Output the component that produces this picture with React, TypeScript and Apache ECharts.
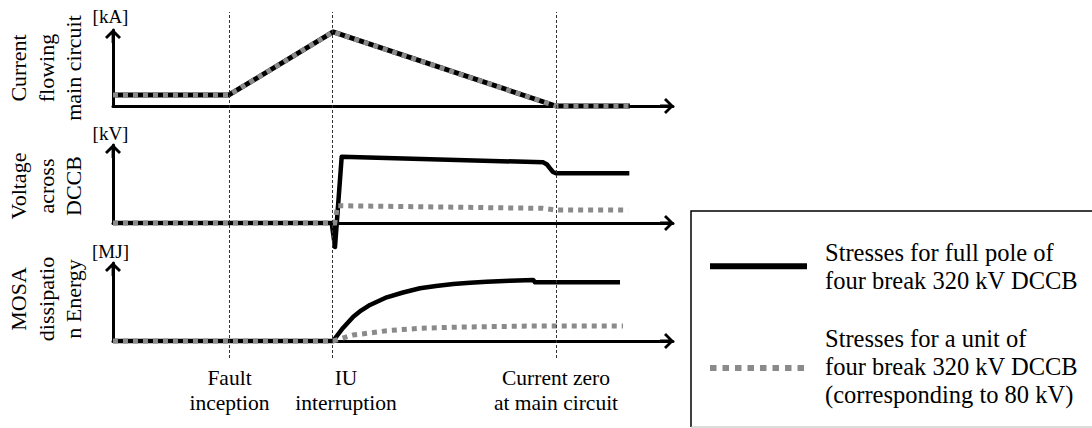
import React, { useEffect, useRef } from 'react';
import * as echarts from 'echarts';

// Event instants on the common time axis (0..100)
const eventTimes = [20.7, 39.1, 79.1];
const eventLabels = ['Fault\ninception', 'IU\ninterruption', 'Current zero\nat main circuit'];
const panelTitles = ['Current\nflowing\nmain circuit', 'Voltage\nacross\nDCCB', 'MOSA\ndissipatio\nn Energy'];
const panelUnits = ['[kA]', '[kV]', '[MJ]'];
const legendLabels = [
  'Stresses for full pole of\nfour break 320 kV DCCB',
  'Stresses for a unit of\nfour break 320 kV DCCB\n(corresponding to 80 kV)',
];

// Panel 1: current flowing main circuit (relative units)
const currentFull = [[0, 14.5], [20.7, 14.5], [39.3, 97.4], [79.1, 0], [92.3, 0]];
const currentUnit = [[0, 14.5], [20.7, 14.5], [39.3, 97.4], [79.1, 0], [92.3, 0]];

// Panel 2: voltage across DCCB
const voltageFull = [
  [0, 0], [39.05, 0], [39.64, -30.8], [40.84, 85], [76.84, 77.8], [77.5, 75],
  [78.04, 70.1], [78.57, 65.4], [79.1, 63.7], [92.2, 63.7],
];
const voltageUnit = [
  [0, 0], [39.6, 0], [40.1, 22.2], [76.8, 18.8], [78.9, 16.7], [92.0, 16.7],
];

// Panel 3: MOSA dissipation energy
const energyFull = [
  [0, 0], [39.29, 0], [41.07, 16.7], [42.91, 31.2], [44.29, 39], [45.89, 46.2],
  [48.88, 56], [51.79, 62.2], [54.82, 67.6], [57.68, 70.5], [60.77, 73.1],
  [63.75, 74.6], [66.73, 76], [70.89, 77.4], [75.05, 78.2], [75.36, 75.3], [90.54, 75.3],
];
const energyUnit = [
  [0, 0], [39.29, 0], [42.86, 7.7], [45.9, 10.3], [48.88, 13.2], [54.82, 16.3],
  [60.71, 17.6], [66.73, 18.4], [75.0, 19.2], [91.07, 19.2],
];

const SERIF = 'Liberation Serif';
const ARROW = 'path://M8,0L16,8L14,10L9.4,5.4L9.4,14L6.6,14L6.6,5.4L2,10L0,8Z';
const GRAY = '#8a8a8a';

export default function App() {
  const ref = useRef<HTMLDivElement>(null);

  useEffect(() => {
    if (!ref.current) return;
    const chart = echarts.init(ref.current, undefined, { renderer: 'svg' });

    const grids = [
      { left: 113, right: 419, top: 30, height: 76 },
      { left: 113, right: 419, top: 145, height: 78 },
      { left: 113, right: 419, top: 263, height: 78 },
      { left: 113, right: 419, top: 12, height: 346 },
    ];

    const axisLine = {
      show: true,
      symbol: ['none', ARROW],
      symbolSize: [16, 14],
      symbolOffset: [0, -6],
      lineStyle: { color: '#000', width: 3 },
    };

    const xAxes = grids.map((_, i) => ({
      type: 'value',
      gridIndex: i,
      min: 0,
      max: 100,
      show: i < 3,
      axisLine: { ...axisLine, onZero: false },
      axisTick: { show: false },
      axisLabel: { show: false },
      splitLine: { show: false },
    }));
    const yAxes = grids.map((_, i) => ({
      type: 'value',
      gridIndex: i,
      min: 0,
      max: i < 3 ? 100 : 1,
      show: i < 3,
      axisLine: { ...axisLine, onZero: false },
      axisTick: { show: false },
      axisLabel: { show: false },
      splitLine: { show: false },
    }));

    const full = (data: number[][], idx: number, width: number) => ({
      type: 'line',
      xAxisIndex: idx,
      yAxisIndex: idx,
      data,
      showSymbol: false,
      clip: false,
      z: 3,
      lineStyle: { color: '#000', width, cap: 'butt', join: 'round' },
    });
    const unit = (data: number[][], idx: number, width: number) => ({
      type: 'line',
      xAxisIndex: idx,
      yAxisIndex: idx,
      data,
      showSymbol: false,
      clip: false,
      z: 4,
      lineStyle: { color: GRAY, width, type: [5, 5], cap: 'butt', join: 'miter' },
    });

    const txt = (size: number, extra: any = {}) => ({
      fontSize: size,
      fontFamily: SERIF,
      fill: '#000',
      ...extra,
    });

    const titleGraphics = panelTitles.map((t, i) => ({
      type: 'text',
      x: 46,
      y: [68, 186, 299][i],
      rotation: Math.PI / 2,
      style: { text: t, ...txt(22, { align: 'center', verticalAlign: 'middle', lineHeight: 27.5 }) },
    }));
    const unitGraphics = panelUnits.map((t, i) => ({
      type: 'text',
      x: 110.5,
      y: [16, 133, 251][i],
      style: { text: t, ...txt(19, { align: 'center', verticalAlign: 'middle' }) },
    }));
    const eventGraphics = eventLabels.map((t, i) => ({
      type: 'text',
      x: [229.5, 346, 556][i],
      y: 390,
      style: { text: t, ...txt(21.5, { align: 'center', verticalAlign: 'middle', lineHeight: 25 }) },
    }));

    const legendGraphics = [
      {
        type: 'polyline',
        shape: { points: [[1100, 211], [691, 211], [691, 427]] },
        style: { stroke: '#000', lineWidth: 1.5, fill: 'none' },
      },
      {
        type: 'line',
        shape: { x1: 691, y1: 427, x2: 1100, y2: 427 },
        style: { stroke: '#bbb', lineWidth: 1 },
      },
      {
        type: 'line',
        shape: { x1: 710, y1: 266.3, x2: 807, y2: 266.3 },
        style: { stroke: '#000', lineWidth: 6 },
      },
      {
        type: 'line',
        shape: { x1: 710, y1: 368, x2: 807, y2: 368 },
        style: { stroke: GRAY, lineWidth: 6, lineDash: [6.5, 6] },
      },
      {
        type: 'text',
        x: 825,
        y: 266.4,
        style: { text: legendLabels[0], ...txt(24.5, { align: 'left', verticalAlign: 'middle', lineHeight: 28.5 }) },
      },
      {
        type: 'text',
        x: 825,
        y: 366.3,
        style: { text: legendLabels[1], ...txt(24.5, { align: 'left', verticalAlign: 'middle', lineHeight: 28.3 }) },
      },
    ];

    chart.setOption({
      animation: false,
      backgroundColor: '#fff',
      grid: grids,
      xAxis: xAxes,
      yAxis: yAxes,
      series: [
        {
          type: 'line',
          xAxisIndex: 3,
          yAxisIndex: 3,
          data: [],
          z: 1,
          markLine: {
            silent: true,
            symbol: ['none', 'none'],
            label: { show: false },
            lineStyle: { color: '#333', width: 1, type: [3, 2] },
            data: eventTimes.map((t) => ({ xAxis: t })),
          },
        },
        full(currentFull, 0, 5),
        unit(currentUnit, 0, 5),
        full(voltageFull, 1, 4.5),
        unit(voltageUnit, 1, 5),
        full(energyFull, 2, 4.5),
        unit(energyUnit, 2, 5),
      ],
      graphic: [...titleGraphics, ...unitGraphics, ...eventGraphics, ...legendGraphics],
    });

    return () => chart.dispose();
  }, []);

  return (
    <div
      ref={ref}
      style={{ position: 'fixed', left: 0, top: 0, width: 1092, height: 428, background: '#fff' }}
    />
  );
}
